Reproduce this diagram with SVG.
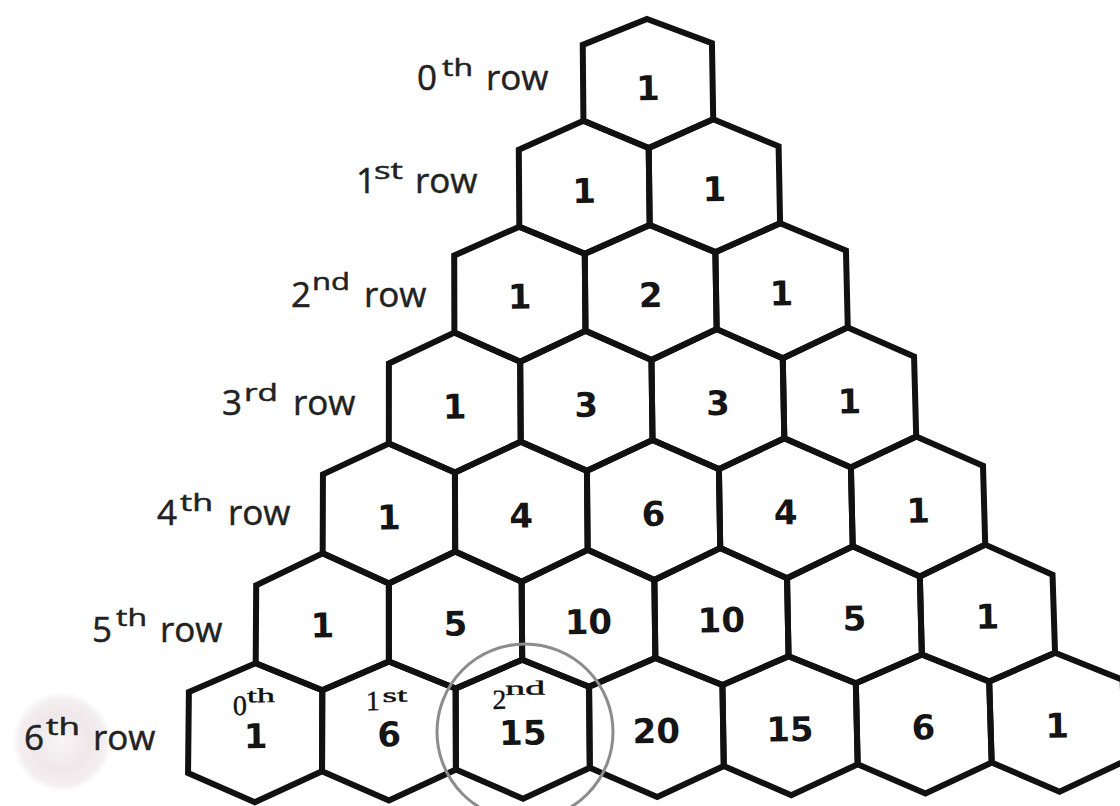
<svg xmlns="http://www.w3.org/2000/svg" width="1120" height="806" viewBox="0 0 1120 806">
<style>
.hex{fill:none;stroke:#111;stroke-width:6;stroke-linejoin:miter}
.num{font-family:"DejaVu Sans",Verdana,sans-serif;font-weight:bold;font-size:34px;text-anchor:middle;fill:#151515}
.lbl{font-family:"Open Sans","Noto Sans",sans-serif;font-size:35px;fill:#222;stroke:#222;stroke-width:0.5}
.sup{font-size:24px}
.ord{font-family:"Liberation Serif","Times New Roman",serif;font-size:28px;fill:#111;stroke:#111;stroke-width:0.4}
.osup{font-size:20px}
</style>
<defs>
<radialGradient id="blot" cx="0.5" cy="0.5" r="0.5">
<stop offset="0" stop-color="#f8f5f6"/>
<stop offset="0.55" stop-color="#efe8ea"/>
<stop offset="0.85" stop-color="#f3eef0"/>
<stop offset="1" stop-color="#ffffff"/>
</radialGradient>
</defs>
<rect width="1120" height="806" fill="#fff"/>
<circle cx="62" cy="742" r="50" fill="url(#blot)"/>
<g id="labels">
<text id="label-row0" class="lbl"><tspan x="417" y="90">0</tspan><tspan class="sup" x="442" y="76" textLength="31" lengthAdjust="spacingAndGlyphs">th</tspan> <tspan x="486" y="90">row</tspan></text>
<text id="label-row1" class="lbl"><tspan x="356" y="193">1</tspan><tspan class="sup" x="374" y="179" textLength="29" lengthAdjust="spacingAndGlyphs">st</tspan> <tspan x="415" y="193">row</tspan></text>
<text id="label-row2" class="lbl"><tspan x="291" y="307">2</tspan><tspan class="sup" x="312" y="290" textLength="38" lengthAdjust="spacingAndGlyphs">nd</tspan> <tspan x="364" y="307">row</tspan></text>
<text id="label-row3" class="lbl"><tspan x="222" y="415">3</tspan><tspan class="sup" x="244" y="401" textLength="34" lengthAdjust="spacingAndGlyphs">rd</tspan> <tspan x="293" y="415">row</tspan></text>
<text id="label-row4" class="lbl"><tspan x="157" y="525">4</tspan><tspan class="sup" x="180" y="511" textLength="33" lengthAdjust="spacingAndGlyphs">th</tspan> <tspan x="228" y="525">row</tspan></text>
<text id="label-row5" class="lbl"><tspan x="92" y="642">5</tspan><tspan class="sup" x="116" y="626" textLength="31" lengthAdjust="spacingAndGlyphs">th</tspan> <tspan x="160" y="642">row</tspan></text>
<text id="label-row6" class="lbl"><tspan x="24" y="750">6</tspan><tspan class="sup" x="46" y="735" textLength="34" lengthAdjust="spacingAndGlyphs">th</tspan> <tspan x="93" y="750">row</tspan></text>
</g>
<g id="triangle" transform="rotate(-0.75 650 400)">
<g id="hex-0-0"><polygon class="hex" points="652,19 716.6,44 716.9,120 652,148 587.1,120 587.4,44"/><text class="num" x="652" y="100">1</text></g>

<g id="hex-1-0"><polygon class="hex" points="587.1,120 652,148 652,225 586.7,253 521.6,225 522.1,148"/><text class="num" x="586.9" y="202">1</text></g>
<g id="hex-1-1"><polygon class="hex" points="716.9,120 781.9,148 782.4,225 717.3,253 652,225 652,148"/><text class="num" x="717.1" y="202">1</text></g>

<g id="hex-2-0"><polygon class="hex" points="521.6,225 586.7,253 586.4,330 520.7,360 455.3,330 456.1,253"/><text class="num" x="521.1" y="307">1</text></g>
<g id="hex-2-1"><polygon class="hex" points="652,225 717.3,253 717.6,330 652,360 586.4,330 586.7,253"/><text class="num" x="652" y="307">2</text></g>
<g id="hex-2-2"><polygon class="hex" points="782.4,225 847.9,253 848.7,330 783.3,360 717.6,330 717.3,253"/><text class="num" x="782.9" y="307">1</text></g>

<g id="hex-3-0"><polygon class="hex" points="455.3,330 520.7,360 520.2,440 454,470 388.3,440 389.4,360"/><text class="num" x="454.6" y="416">1</text></g>
<g id="hex-3-1"><polygon class="hex" points="586.4,330 652,360 652,440 586,470 520.2,440 520.7,360"/><text class="num" x="586.2" y="416">3</text></g>
<g id="hex-3-2"><polygon class="hex" points="717.6,330 783.3,360 783.8,440 718,470 652,440 652,360"/><text class="num" x="717.8" y="416">3</text></g>
<g id="hex-3-3"><polygon class="hex" points="848.7,330 914.6,360 915.7,440 850,470 783.8,440 783.3,360"/><text class="num" x="849.4" y="416">1</text></g>

<g id="hex-4-0"><polygon class="hex" points="388.3,440 454,470 453.2,549 386.5,580 320.7,549 322,470"/><text class="num" x="387.4" y="526">1</text></g>
<g id="hex-4-1"><polygon class="hex" points="520.2,440 586,470 585.7,549 519.3,580 453.2,549 454,470"/><text class="num" x="519.7" y="526">4</text></g>
<g id="hex-4-2"><polygon class="hex" points="652,440 718,470 718.3,549 652,580 585.7,549 586,470"/><text class="num" x="652" y="526">6</text></g>
<g id="hex-4-3"><polygon class="hex" points="783.8,440 850,470 850.8,549 784.7,580 718.3,549 718,470"/><text class="num" x="784.3" y="526">4</text></g>
<g id="hex-4-4"><polygon class="hex" points="915.7,440 982.1,470 983.3,549 917.5,580 850.8,549 850,470"/><text class="num" x="916.6" y="526">1</text></g>

<g id="hex-5-0"><polygon class="hex" points="320.7,549 386.5,580 385.5,658 318.5,686 252.3,658 253.8,580"/><text class="num" x="319.5" y="633">1</text></g>
<g id="hex-5-1"><polygon class="hex" points="453.2,549 519.3,580 518.8,658 451.9,686 385.5,658 386.5,580"/><text class="num" x="452.5" y="633">5</text></g>
<g id="hex-5-2"><polygon class="hex" points="585.7,549 652,580 652,658 585.3,686 518.8,658 519.3,580"/><text class="num" x="585.5" y="633">10</text></g>
<g id="hex-5-3"><polygon class="hex" points="718.3,549 784.7,580 785.2,658 718.7,686 652,658 652,580"/><text class="num" x="718.5" y="633">10</text></g>
<g id="hex-5-4"><polygon class="hex" points="850.8,549 917.5,580 918.5,658 852.1,686 785.2,658 784.7,580"/><text class="num" x="851.5" y="633">5</text></g>
<g id="hex-5-5"><polygon class="hex" points="983.3,549 1050.2,580 1051.7,658 985.5,686 918.5,658 917.5,580"/><text class="num" x="984.5" y="633">1</text></g>

<g id="hex-6-0"><polygon class="hex" points="252.3,658 318.5,686 317.2,767 249.6,797 183.2,767 185.1,686"/><text class="ord"><tspan x="229" y="709.5">0</tspan><tspan class="osup" x="243" y="697" textLength="28" lengthAdjust="spacingAndGlyphs">th</tspan></text><text class="num" x="251.2" y="743">1</text></g>
<g id="hex-6-1"><polygon class="hex" points="385.5,658 451.9,686 451.1,767 383.7,797 317.2,767 318.5,686"/><text class="ord"><tspan x="362" y="706.5">1</tspan><tspan class="osup" x="378.5" y="698.5" textLength="25" lengthAdjust="spacingAndGlyphs">st</tspan></text><text class="num" x="384.8" y="743">6</text></g>
<g id="hex-6-2"><polygon class="hex" points="518.8,658 585.3,686 585,767 517.9,797 451.1,767 451.9,686"/><text class="ord"><tspan x="488.5" y="707">2</tspan><tspan class="osup" x="501.5" y="693" textLength="40" lengthAdjust="spacingAndGlyphs">nd</tspan></text><text class="num" x="518.4" y="743">15</text></g>
<g id="hex-6-3"><polygon class="hex" points="652,658 718.7,686 719,767 652,797 585,767 585.3,686"/><text class="num" x="652" y="743">20</text></g>
<g id="hex-6-4"><polygon class="hex" points="785.2,658 852.1,686 852.9,767 786.1,797 719,767 718.7,686"/><text class="num" x="785.6" y="743">15</text></g>
<g id="hex-6-5"><polygon class="hex" points="918.5,658 985.5,686 986.9,767 920.3,797 852.9,767 852.1,686"/><text class="num" x="919.2" y="743">6</text></g>
<g id="hex-6-6"><polygon class="hex" points="1051.7,658 1118.9,686 1120.8,767 1054.4,797 986.9,767 985.5,686"/><text class="num" x="1052.8" y="743">1</text></g>
</g>
<g id="highlight">
<circle cx="525" cy="732" r="88" fill="none" stroke="#8c8c8c" stroke-width="3"/>
</g>
</svg>
